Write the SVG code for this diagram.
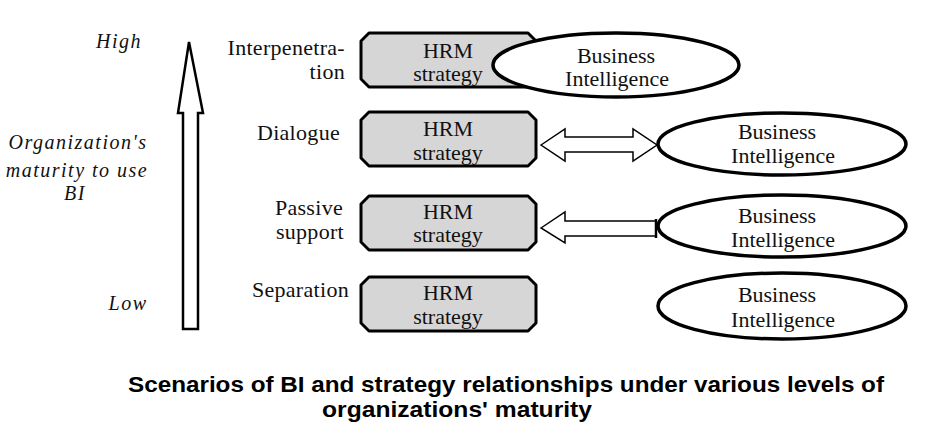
<svg xmlns="http://www.w3.org/2000/svg" width="926" height="436" viewBox="0 0 926 436">
<style>
.lbl{font-family:"Liberation Serif",serif;font-size:22px;letter-spacing:0.3px;fill:#111}
.ital{font-family:"Liberation Serif",serif;font-size:20px;font-style:italic;letter-spacing:1.5px;fill:#111;text-anchor:middle}
.box{fill:#d6d6d6;stroke:#000;stroke-width:3;stroke-linejoin:round}
.bt{font-family:"Liberation Serif",serif;font-size:22px;fill:#111;text-anchor:middle}
.ell{fill:#fff;stroke:#000;stroke-width:3.5}
.arr{fill:#fff;stroke:#000;stroke-width:1.5;stroke-linejoin:miter}
.title{font-family:"Liberation Sans",Arial,sans-serif;font-size:22px;font-weight:bold;fill:#000}
</style>
<defs>
<path id="boxshape" d="M369,0 H528 L536,8 V46 L528,54 H369 L361,46 V8 Z"/>
</defs>
<rect width="926" height="436" fill="#fff"/>

<g id="axis">
<polygon class="arr" style="stroke-width:2.5" points="189,42 203,113 198,113 198,329 183,329 183,113 178,113"/>
<text class="ital" x="119" y="48">High</text>
<text class="ital" x="78" y="149">Organization's</text>
<text class="ital" x="77" y="177">maturity to use</text>
<text class="ital" x="75" y="200">BI</text>
<text class="ital" x="128" y="310">Low</text>
</g>

<g id="labels" class="lbl" text-anchor="end">
<text x="345" y="55">Interpenetra-</text>
<text x="345" y="79">tion</text>
<text x="340" y="140">Dialogue</text>
<text x="343" y="215">Passive</text>
<text x="344" y="239">support</text>
<text x="349" y="297">Separation</text>
</g>

<g id="hrm1">
<use href="#boxshape" class="box" transform="translate(0,33)"/>
<text class="bt" x="448" y="58">HRM</text>
<text class="bt" x="448" y="81">strategy</text>
</g>
<g id="bi1">
<ellipse class="ell" cx="616" cy="65" rx="123" ry="32"/>
<text class="bt" x="616" y="63">Business</text>
<text class="bt" x="617" y="86">Intelligence</text>
</g>

<g id="hrm2">
<use href="#boxshape" class="box" transform="translate(0,112)"/>
<text class="bt" x="448" y="136">HRM</text>
<text class="bt" x="448" y="160">strategy</text>
</g>
<g id="bi2">
<ellipse class="ell" cx="782" cy="144" rx="124" ry="31"/>
<text class="bt" x="777" y="139">Business</text>
<text class="bt" x="783" y="163">Intelligence</text>
</g>

<g id="hrm3">
<use href="#boxshape" class="box" transform="translate(0,196)"/>
<text class="bt" x="448" y="219">HRM</text>
<text class="bt" x="448" y="242">strategy</text>
</g>
<g id="bi3">
<ellipse class="ell" cx="782" cy="226" rx="124" ry="31"/>
<text class="bt" x="777" y="223">Business</text>
<text class="bt" x="783" y="247">Intelligence</text>
</g>

<g id="hrm4">
<use href="#boxshape" class="box" transform="translate(0,277)"/>
<text class="bt" x="448" y="300">HRM</text>
<text class="bt" x="448" y="324">strategy</text>
</g>
<g id="bi4">
<ellipse class="ell" cx="782" cy="306" rx="124" ry="33"/>
<text class="bt" x="777" y="302">Business</text>
<text class="bt" x="783" y="327">Intelligence</text>
</g>

<g id="connectors">
<polygon class="arr" points="541,145 565,129 565,137 633,137 633,129 657,145 633,161 633,152 565,152 565,161"/>
<polygon class="arr" points="541,228 565,212 565,221 656,221 656,236 565,236 565,243"/>
<line x1="656" y1="219" x2="656" y2="238" stroke="#000" stroke-width="2.5"/>
</g>

<g id="caption">
<text class="title" x="128" y="392" textLength="756" lengthAdjust="spacingAndGlyphs">Scenarios of BI and strategy relationships under various levels of</text>
<text class="title" x="322" y="417" textLength="270" lengthAdjust="spacingAndGlyphs">organizations' maturity</text>
</g>
</svg>
